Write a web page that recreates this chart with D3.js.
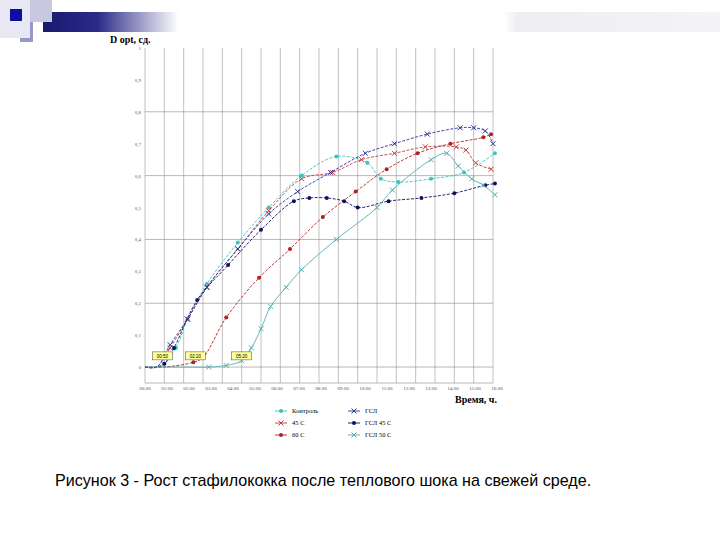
<!DOCTYPE html>
<html><head><meta charset="utf-8">
<script src="https://cdn.jsdelivr.net/npm/d3@7"></script>
<style>body{margin:0;background:#fff}svg{display:block}</style>
</head><body>
<script>
// values: [hours, D opt]
var control = [[0,0],[0.6,0],[1,0.01],[1.6,0.06],[2.2,0.15],[3.2,0.26],[4.8,0.39],[6.4,0.5],[8.1,0.6],[9.9,0.66],[11.5,0.64],[12.2,0.59],[13.1,0.58],[14.8,0.59],[16.5,0.61],[18.1,0.67]];
var gsl = [[0,0],[0.6,0],[1.3,0.07],[2.2,0.15],[3.2,0.25],[4.8,0.37],[6.4,0.48],[7.9,0.55],[9.6,0.61],[11.4,0.67],[12.9,0.7],[14.6,0.73],[16.3,0.75],[17,0.75],[17.6,0.74],[18,0.7]];
var c45 = [[0,0],[0.6,0],[1.3,0.06],[2.2,0.15],[3.2,0.25],[4.8,0.37],[6.4,0.49],[8.1,0.59],[9.7,0.61],[11.2,0.65],[12.9,0.67],[14.5,0.69],[16.1,0.69],[16.6,0.68],[17.1,0.64],[17.9,0.62]];
var c60 = [[0,0],[1,0],[2.5,0.015],[3,0.03],[4.2,0.155],[5.9,0.28],[7.5,0.37],[9.2,0.47],[10.9,0.55],[12.5,0.62],[14.1,0.67],[15.8,0.7],[17.5,0.72],[17.9,0.73]];
var gsl45 = [[0,0],[0.6,0],[1,0.01],[1.5,0.06],[2.7,0.21],[4.3,0.32],[6,0.43],[7.7,0.52],[8.5,0.53],[9.4,0.53],[10.3,0.52],[11,0.5],[12.6,0.52],[14.3,0.53],[16,0.545],[17.6,0.57],[18.1,0.575]];
var gsl50 = [[0,0],[2,0],[3.3,0],[4.2,0.005],[5,0.02],[5.5,0.06],[6,0.12],[6.5,0.19],[7.3,0.25],[8.1,0.305],[9.9,0.4],[12,0.5],[12.8,0.555],[14.8,0.65],[15.6,0.67],[16.2,0.63],[16.9,0.59],[17.5,0.57],[18.1,0.54]];
var seriesNames = ["Контроль","45 С","60 С","ГСЛ","ГСЛ 45 С","ГСЛ 50 С"];
var seriesData = [control,c45,c60,gsl,gsl45,gsl50];
var seriesColors = ["#33c6c6","#c04040","#b02020","#3030a0","#101060","#50b0b0"];
var seriesMarks = ["dot","x","dot","x","dot","x"];
var yTicks = [0,0.1,0.2,0.3,0.4,0.5,0.6,0.7,0.8,0.9,1];
var xLabels = ["00:00","01:00","02:00","03:00","04:00","05:00","06:00","07:00","08:00","09:00","10:00","11:00","12:00","13:00","14:00","15:00","16:00"];
var flags = [[0.9,"00:50"],[2.6,"02:20"],[5.0,"05:20"]];

var svg = d3.select("body").append("svg").attr("width",720).attr("height",540);

// slide decoration
var grad = svg.append("defs").append("linearGradient").attr("id","bar");
grad.append("stop").attr("offset","0").attr("stop-color","#1a1a70");
grad.append("stop").attr("offset","0.08").attr("stop-color","#2a2a88");
grad.append("stop").attr("offset","0.2").attr("stop-color","#ffffff");
grad.append("stop").attr("offset","0.68").attr("stop-color","#ffffff");
grad.append("stop").attr("offset","0.7").attr("stop-color","#eeeef2");
grad.append("stop").attr("offset","1").attr("stop-color","#f4f4f6");
svg.append("rect").attr("x",43).attr("y",12).attr("width",677).attr("height",20).attr("fill","url(#bar)");
svg.append("rect").attr("x",30).attr("y",0).attr("width",22).attr("height",22).attr("fill","#c8c8e0");
svg.append("rect").attr("x",20).attr("y",22).attr("width",13).attr("height",20).attr("fill","#9898c8");
svg.append("rect").attr("x",0).attr("y",0).attr("width",30).attr("height",38).attr("fill","#e8e8f4");
svg.append("rect").attr("x",10).attr("y",9).attr("width",12).attr("height",12).attr("fill","#1010a0");

var x = d3.scaleLinear().domain([0,18]).range([145,493]);
var xl = d3.scaleLinear().domain([0,16]).range([145,497]);
var y = d3.scaleLinear().domain([-0.05,1]).range([383,48]);

var g = svg.append("g");
// grid
g.selectAll(".vg").data(d3.range(0,19)).join("line")
  .attr("x1",d=>x(d)).attr("x2",d=>x(d)).attr("y1",y(1)).attr("y2",y(-0.05))
  .attr("stroke","#999").attr("stroke-width",0.6);
g.selectAll(".hg").data([0,0.2,0.4,0.6,0.8]).join("line")
  .attr("x1",x(0)).attr("x2",x(18)).attr("y1",d=>y(d)).attr("y2",d=>y(d))
  .attr("stroke","#888").attr("stroke-width",0.6);
g.append("line").attr("x1",x(0)).attr("x2",x(18)).attr("y1",y(-0.05)).attr("y2",y(-0.05)).attr("stroke","#888").attr("stroke-width",0.6);

g.selectAll(".yt").data(yTicks).join("text")
  .attr("x",x(0)-4).attr("y",d=>y(d)+2).attr("text-anchor","end")
  .attr("font-family","Liberation Serif").attr("font-size",5).attr("fill","#555")
  .text(d=>d===0?"0":d===1?"1":d3.format(".1f")(d).replace(".",","));
g.selectAll(".xt").data(xLabels).join("text")
  .attr("x",(d,i)=>xl(i)).attr("y",390).attr("text-anchor","middle")
  .attr("font-family","Liberation Serif").attr("font-size",5).attr("fill","#555").text(d=>d);

svg.append("text").attr("x",110).attr("y",43).attr("font-family","Liberation Serif")
  .attr("font-weight","bold").attr("font-size",10).text("D opt, сд.");
svg.append("text").attr("x",497).attr("y",403).attr("text-anchor","end").attr("font-family","Liberation Serif")
  .attr("font-weight","bold").attr("font-size",10).text("Время, ч.");

var line = d3.line().x(d=>x(d[0])).y(d=>y(d[1])).curve(d3.curveCatmullRom);
seriesData.forEach(function(s,i){
  var dash = i===5 ? null : "3,1.5";
  g.append("path").datum(s).attr("d",line).attr("fill","none")
    .attr("stroke",seriesColors[i]).attr("stroke-width",0.9).attr("stroke-dasharray",dash);
  var pts = s.filter((d,j)=>j>1);
  if(seriesMarks[i]==="dot"){
    g.selectAll(null).data(pts).join("circle").attr("cx",d=>x(d[0])).attr("cy",d=>y(d[1]))
      .attr("r",2).attr("fill",seriesColors[i]);
  } else {
    g.selectAll(null).data(pts).join("path")
      .attr("d",d=>"M"+(x(d[0])-2.5)+","+(y(d[1])-2.5)+"l5,5m0,-5l-5,5")
      .attr("stroke",seriesColors[i]).attr("stroke-width",1);
  }
});

// time flags
var fl = g.selectAll(".fl").data(flags).join("g")
  .attr("transform",d=>"translate("+x(d[0])+","+y(0.035)+")");
fl.append("rect").attr("x",-10).attr("y",-4).attr("width",20).attr("height",8)
  .attr("fill","#ffff99").attr("stroke","#444").attr("stroke-width",0.5);
fl.append("text").attr("y",2).attr("text-anchor","middle").attr("font-family","Liberation Sans")
  .attr("font-size",4.5).text(d=>d[1]);

// legend
var leg = svg.append("g").selectAll("g").data(seriesNames).join("g")
  .attr("transform",(d,i)=>"translate("+(i<3?275:348)+","+(411+(i%3)*12)+")");
leg.append("line").attr("x1",0).attr("x2",12).attr("stroke",(d,i)=>seriesColors[i]).attr("stroke-width",0.9);
leg.each(function(d,i){
  var e = d3.select(this);
  if(seriesMarks[i]==="dot") e.append("circle").attr("cx",6).attr("r",2).attr("fill",seriesColors[i]);
  else e.append("path").attr("d","M3.5,-2.5l5,5m0,-5l-5,5").attr("stroke",seriesColors[i]);
});
leg.append("text").attr("x",17).attr("y",2).attr("font-family","Liberation Serif").attr("font-size",6.5).text(d=>d);

svg.append("text").attr("x",55).attr("y",486).attr("font-family","Liberation Sans")
  .attr("font-size",16.1).text("Рисунок 3 - Рост стафилококка после теплового шока на свежей среде.");
</script>
</body></html>
